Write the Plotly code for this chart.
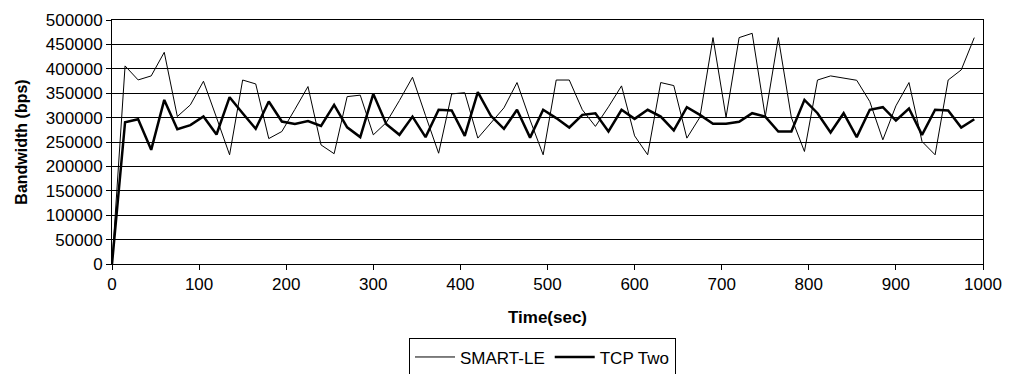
import plotly.graph_objects as go

time_sec = [0, 15, 30, 45, 60, 75, 90, 105, 120, 135, 150, 165, 180, 195, 210, 225, 240, 255,
            270, 285, 300, 315, 330, 345, 360, 375, 390, 405, 420, 435, 450, 465, 480, 495,
            510, 525, 540, 555, 570, 585, 600, 615, 630, 645, 660, 675, 690, 705, 720, 735,
            750, 765, 780, 795, 810, 825, 840, 855, 870, 885, 900, 915, 930, 945, 960, 975, 990]

smart_le = [0, 405900, 377200, 385400, 433800, 302200, 326100, 374500, 300000, 223800,
            377000, 369000, 257000, 271500, 317000, 363600, 244000, 226000, 343000, 346000,
            264700, 290000, 335000, 382700, 304000, 227000, 348600, 351000, 258000, 290000,
            320000, 371800, 295000, 223800, 377000, 377000, 316000, 282000, 322000, 365000,
            262600, 223800, 371800, 365600, 257900, 300800, 463900, 300800, 463900, 472700,
            302000, 463900, 300000, 230600, 377000, 385400, 380600, 376500, 332900, 254500,
            324000, 371800, 251000, 223800, 377000, 397700, 463900]

tcp_two = [0, 290600, 296700, 234000, 336300, 276300, 284500, 302200, 265400, 341800,
           309000, 277000, 332900, 292000, 287000, 293000, 283000, 326000, 280000, 260000,
           348600, 286500, 264700, 302000, 260000, 316000, 314500, 262600, 352000, 303600,
           277000, 316000, 259000, 316000, 299000, 279700, 305600, 309000, 271500, 316000,
           297400, 316000, 302000, 273600, 321300, 305600, 287200, 287200, 291300, 309000,
           302000, 271500, 271500, 336300, 309000, 269500, 309000, 260000, 316000, 321300,
           294000, 318600, 264700, 316000, 314500, 279700, 296700]

x_ticks = [0, 100, 200, 300, 400, 500, 600, 700, 800, 900, 1000]
y_ticks = [0, 50000, 100000, 150000, 200000, 250000, 300000, 350000, 400000, 450000, 500000]

fig = go.Figure()
fig.add_trace(go.Scatter(x=time_sec, y=smart_le, mode="lines", name="SMART-LE",
                         line=dict(color="black", width=1)))
fig.add_trace(go.Scatter(x=time_sec, y=tcp_two, mode="lines", name="TCP Two",
                         line=dict(color="black", width=2.5)))

font_family = "Liberation Sans, Arial, sans-serif"
fig.update_layout(
    width=1010, height=374,
    margin=dict(l=112, r=27, t=20, b=110, autoexpand=False),
    paper_bgcolor="white", plot_bgcolor="white",
    font=dict(family=font_family, size=17, color="black"),
    showlegend=True,
    legend=dict(orientation="h", x=0.341, xanchor="left", y=-0.305, yanchor="top",
                bordercolor="black", borderwidth=1, font=dict(size=17),
                itemwidth=40, tracegroupgap=0),
    xaxis=dict(range=[0, 1000], tickvals=x_ticks, ticks="outside", ticklen=5,
               tickcolor="black", showgrid=False, zeroline=False,
               showline=True, linecolor="black", linewidth=1, mirror=True,
               title=dict(text="<b>Time(sec)</b>", font=dict(size=17), standoff=17)),
    yaxis=dict(range=[0, 500000], tickvals=y_ticks, ticks="outside", ticklen=5,
               tickcolor="black", showgrid=True, gridcolor="black", gridwidth=1,
               zeroline=False, showline=True, linecolor="black", linewidth=1, mirror=True,
               tickformat="d",
               title=dict(text="<b>Bandwidth (bps)</b>", font=dict(size=16), standoff=14)),
)

fig.write_html("out.html")
